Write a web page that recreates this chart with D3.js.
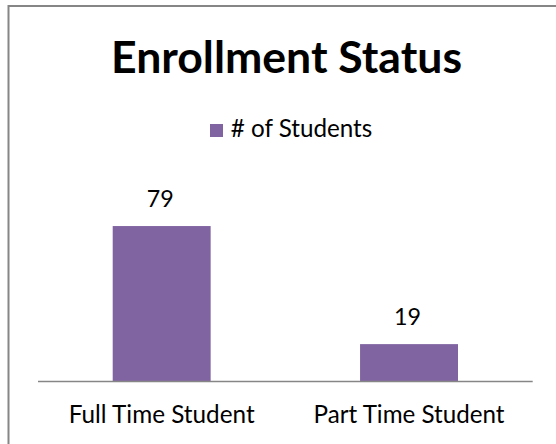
<!DOCTYPE html>
<html>
<head>
<meta charset="utf-8">
<script src="https://cdn.jsdelivr.net/npm/d3@7"></script>
<style>
html,body{margin:0;padding:0;background:#fff;overflow:hidden;}
svg{display:block;}
text{font-family:Lato,"Open Sans",sans-serif;fill:#000;}
</style>
</head>
<body>
<svg id="chart" width="556" height="444"></svg>
<script>
const title = "Enrollment Status";
const seriesName = "# of Students";
const categories = ["Full Time Student", "Part Time Student"];
const values = [79, 19];
const yDomain = [0, 90];

const svg = d3.select("#chart");
const W = 556, H = 444;
const purple = "#8064A2";
const gray = "#868686";

// fit a text element to a target width by scaling its font size
function fit(sel, target) {
  sel.each(function () {
    const fs = parseFloat(this.getAttribute("font-size"));
    const w = this.getComputedTextLength();
    if (w > 0) this.setAttribute("font-size", (fs * target / w).toFixed(2));
  });
}

svg.append("rect").attr("width", W).attr("height", H).attr("fill", "#fff");
svg.append("rect")
  .attr("x", 8.5).attr("y", 6)
  .attr("width", 700).attr("height", 600)
  .attr("fill", "none").attr("stroke", gray).attr("stroke-width", 2);

const plot = {left: 38, right: 532.7, bottom: 381.5, top: 204.4};

const x = d3.scaleBand().domain(categories).range([plot.left, plot.right]).padding(0);
const y = d3.scaleLinear().domain(yDomain).range([plot.bottom, plot.top]);
const barW = x.bandwidth() * 0.396;

// title
svg.append("text")
  .attr("x", 286.5).attr("y", 72.7)
  .attr("text-anchor", "middle")
  .attr("font-weight", "bold").attr("font-size", 44)
  .text(title)
  .call(fit, 351);

// legend
const lg = svg.append("g");
lg.append("rect").attr("x", 210).attr("y", 124).attr("width", 13).attr("height", 13).attr("fill", purple);
lg.append("text").attr("x", 230.7).attr("y", 137.3).attr("font-size", 18.7)
  .text(seriesName).call(fit, 141.6);

// bars
svg.append("g").selectAll("rect").data(values).join("rect")
  .attr("x", (d, i) => x(categories[i]) + (x.bandwidth() - barW) / 2)
  .attr("y", d => y(d))
  .attr("width", barW)
  .attr("height", d => y(0) - y(d))
  .attr("fill", purple);

// value labels
const vl = svg.append("g").selectAll("text").data(values).join("text")
  .attr("x", (d, i) => x(categories[i]) + x.bandwidth() / 2 - 1.5)
  .attr("y", d => y(d) - 19)
  .attr("text-anchor", "middle")
  .attr("font-size", 24)
  .text(d => d);

// axis
const axis = svg.append("g")
  .attr("transform", `translate(0,${plot.bottom})`)
  .call(d3.axisBottom(x).tickSize(0).tickPadding(0));
axis.attr("font-size", null).attr("font-family", null);
axis.select(".domain").attr("stroke", gray).attr("stroke-width", 1.6)
  .attr("d", `M${plot.left},0H${plot.right}`);
axis.selectAll(".tick text")
  .attr("dy", null).attr("y", 41.5)
  .attr("font-size", 24)
  .attr("fill", "#000");
fit(axis.selectAll(".tick text").filter((d, i) => i === 0), 186);
fit(axis.selectAll(".tick text").filter((d, i) => i === 1), 191);
fit(vl, 27);
</script>
</body>
</html>
